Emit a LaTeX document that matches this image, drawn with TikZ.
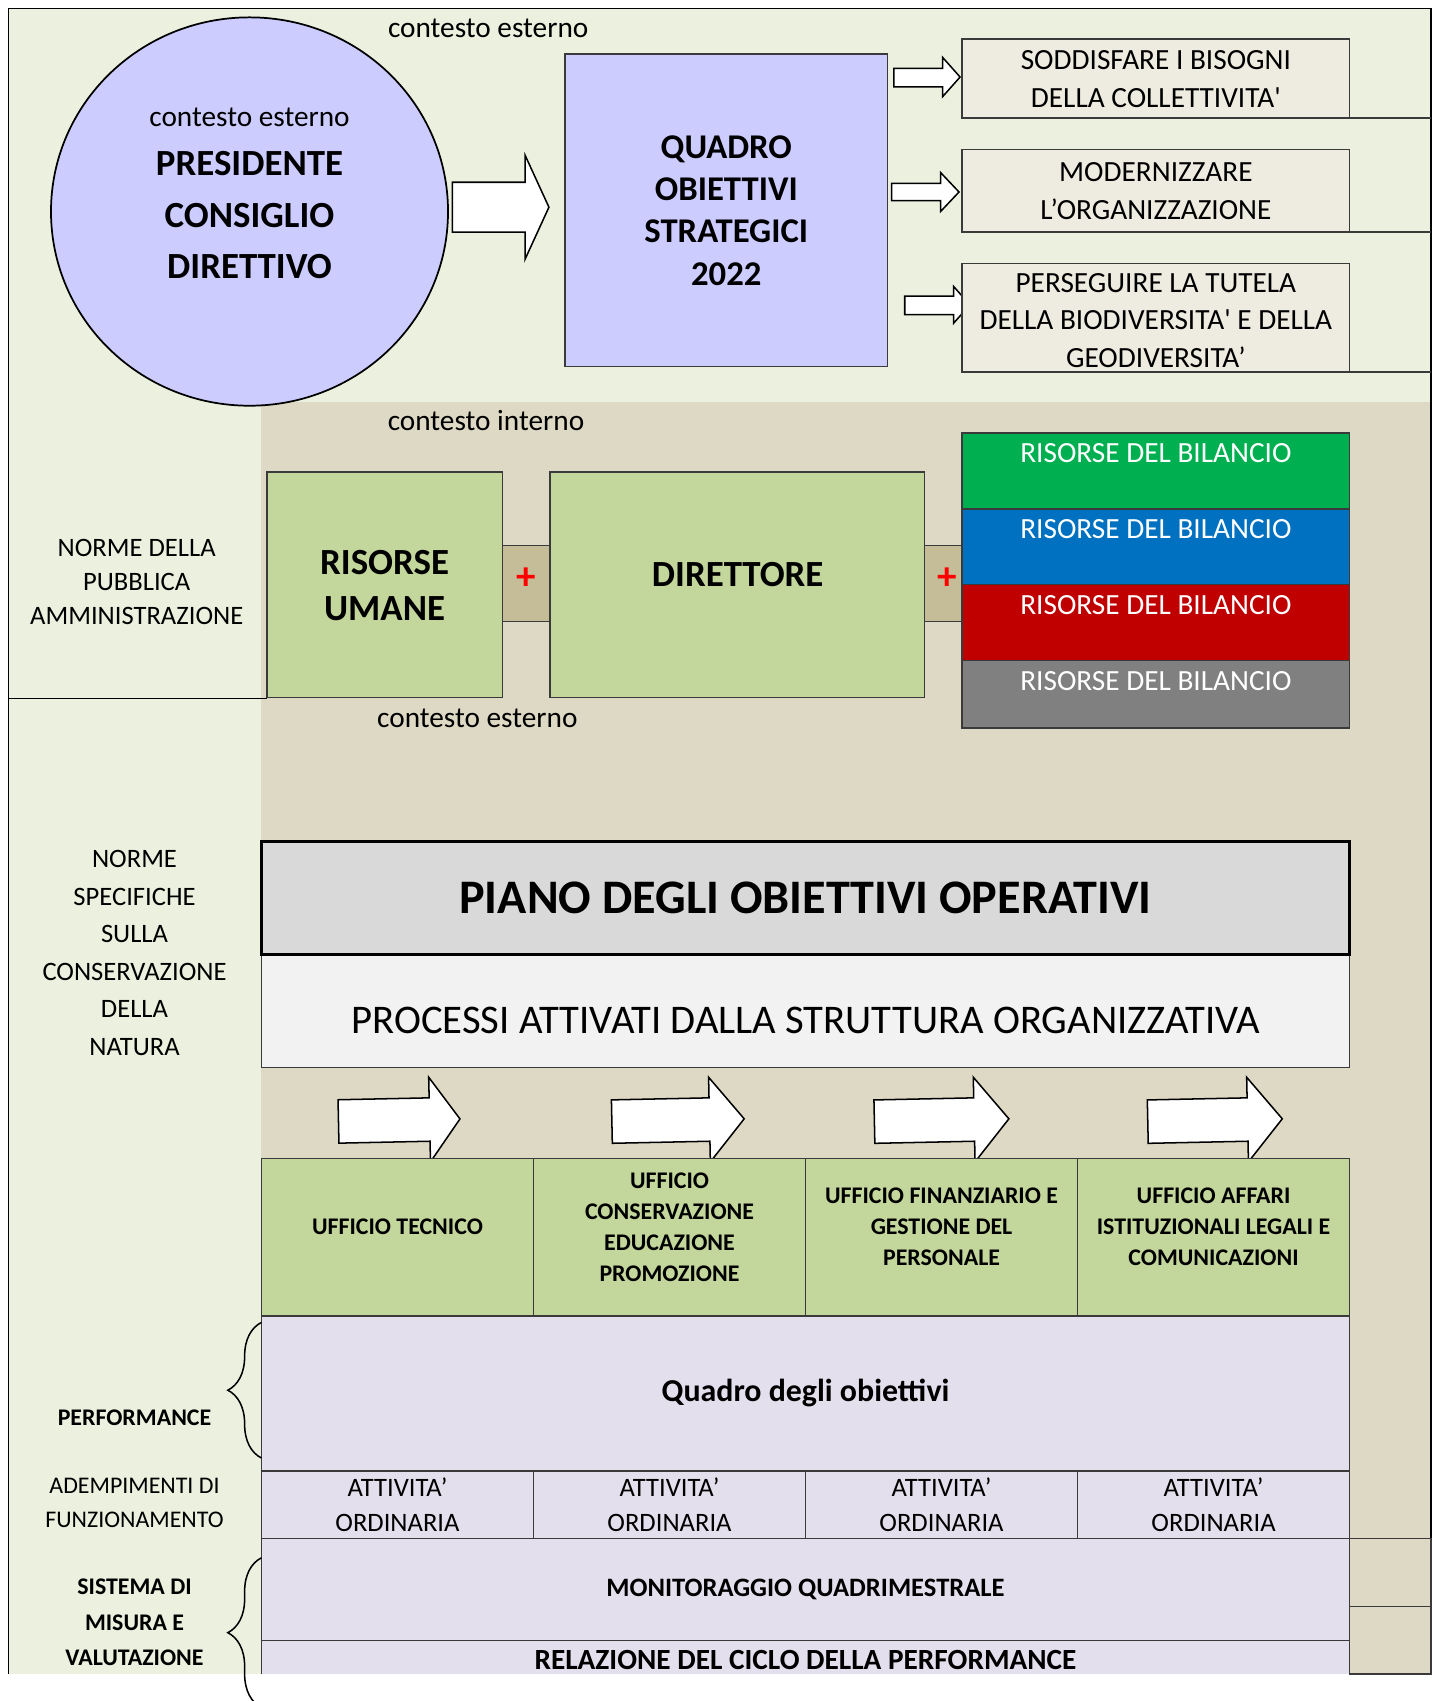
\documentclass[tikz,border=0pt]{standalone}
\usepackage{fontspec}
\setmainfont{Carlito}
\usetikzlibrary{shapes.geometric,decorations.pathreplacing}

\definecolor{esterno}{HTML}{EBF1DE}
\definecolor{interno}{HTML}{DDD9C4}
\definecolor{lilla}{HTML}{CCCCFF}
\definecolor{tela}{HTML}{EEECE1}
\definecolor{oliva}{HTML}{C3D69B}
\definecolor{sabbia}{HTML}{C4BD97}
\definecolor{grigiochiaro}{HTML}{D9D9D9}
\definecolor{grigiotenue}{HTML}{F2F2F2}
\definecolor{glicine}{HTML}{E4DFEC}
\definecolor{verdebil}{HTML}{00B050}
\definecolor{blubil}{HTML}{0070C0}
\definecolor{rossobil}{HTML}{C00000}
\definecolor{grigiobil}{HTML}{808080}
\definecolor{bordo}{HTML}{3A3A3A}

\begin{document}
\begin{tikzpicture}[x=1pt, y=-1pt,
    cornice/.style={draw=bordo, line width=1.4pt},
    cella/.style={cornice, inner sep=0pt, outer sep=0pt},
    freccia/.style={draw=black, line width=1.4pt, fill=white},
    graffa/.style={draw=black, line width=1.4pt, decorate, decoration={brace, amplitude=31pt}},
    txt/.style={align=center, inner sep=0pt, font=\fontsize{27}{35}\selectfont},
    sx/.style={align=center, inner sep=0pt, font=\fontsize{24.5}{31.5}\selectfont},
    sxb/.style={align=center, inner sep=0pt, font=\bfseries\fontsize{22}{32.5}\selectfont},
    grande/.style={align=center, inner sep=0pt, font=\bfseries\fontsize{34}{42}\selectfont},
    piu/.style={text=red, inner sep=0pt, font=\bfseries\fontsize{36}{36}\selectfont},
    uffici/.style={align=center, inner sep=0pt, font=\bfseries\fontsize{22}{28.5}\selectfont}]
    \useasboundingbox (0,0) rectangle (1327,1568);

    % contesto esterno e contesto interno
    \fill[esterno] (8,8) rectangle (1319,1543);
    \fill[interno] (241,371) rectangle (1319,1543);
    \draw[line width=1.4pt] (8,1543) -- (8,8) -- (1319,8) -- (1319,1543);
    \draw[line width=1.4pt] (8,644) -- (246,644);

    \node[txt] (esterno1) at (450,26) {contesto esterno};
    \node[txt] (interno1) at (448,388) {contesto interno};
    \node[txt] (esterno2) at (440,662) {contesto esterno};

    % vertice politico
    \node[ellipse, draw=black, line width=1.6pt, fill=lilla, inner sep=0pt,
          minimum width=366pt, minimum height=358pt] (consiglio) at (230,195) {};
    \node[txt] (esterno0) at (230,108) {contesto esterno};
    \node[grande, font=\bfseries\fontsize{34}{47.5}\selectfont] (presidente) at (230,198.5)
        {PRESIDENTE\\CONSIGLIO\\DIRETTIVO};

    \draw[freccia] (417,168) -- (484,168) -- (484,143) -- (506,191) -- (484,239) -- (484,214) -- (417,214) -- cycle;

    \node[cella, fill=lilla, minimum width=297pt, minimum height=288pt, align=center,
          font=\bfseries\fontsize{32}{39}\selectfont] (quadro) at (669.5,194)
        {QUADRO\\OBIETTIVI\\STRATEGICI\\2022};

    % obiettivi strategici
    \draw[freccia] (824,63) -- (869,63) -- (869,53) -- (885,71) -- (869,89) -- (869,80) -- (824,80) -- cycle;
    \draw[freccia] (822,169) -- (867,169) -- (867,159) -- (884,177) -- (867,195) -- (867,185) -- (822,185) -- cycle;
    \draw[freccia] (834,273) -- (879,273) -- (879,264) -- (894,281) -- (879,298) -- (879,290) -- (834,290) -- cycle;

    \node[cella, txt, fill=tela, minimum width=357pt, minimum height=73pt] (ob1) at (1065.5,72.5)
        {SODDISFARE I BISOGNI\\DELLA COLLETTIVITA\textquotesingle};
    \node[cella, txt, fill=tela, minimum width=357pt, minimum height=76pt] (ob2) at (1065.5,176)
        {MODERNIZZARE\\L’ORGANIZZAZIONE};
    \node[cella, fill=tela, minimum width=357pt, minimum height=100pt] (ob3) at (1065.5,293) {};
    \node[txt] (ob3txt) at (1065.5,295.5)
        {PERSEGUIRE LA TUTELA\\DELLA BIODIVERSITA\textquotesingle{} E DELLA\\GEODIVERSITA’};
    \draw[cornice] (ob1.south east) -- (1319,109);
    \draw[cornice] (ob2.south east) -- (1319,214);
    \draw[cornice] (ob3.south east) -- (1319,343);

    % risorse
    \node[sx] (normepa) at (126,536.5) {NORME DELLA\\PUBBLICA\\AMMINISTRAZIONE};
    \node[cella, fill=sabbia, minimum width=44pt, minimum height=70pt] (piu1) at (485,538) {};
    \node[cella, fill=sabbia, minimum width=35pt, minimum height=70pt] (piu2) at (869.5,538) {};
    \node[piu] (piu1txt) at (485,533) {+};
    \node[piu] (piu2txt) at (873,533) {+};
    \node[cella, fill=oliva, minimum width=217pt, minimum height=208pt] (umane) at (354.5,539) {};
    \node[grande] (umanetxt) at (354.5,540) {RISORSE\\UMANE};
    \node[cella, fill=oliva, minimum width=345pt, minimum height=208pt] (direttore) at (679.5,539) {};
    \node[grande] (direttoretxt) at (680,530) {DIRETTORE};

    \foreach \c/\yc/\h/\n in {verdebil/434/70/1, blubil/504/70/2, rossobil/574/70/3, grigiobil/640/62/4} {
        \node[cella, fill=\c, minimum width=357pt, minimum height=\h pt] (bil\n) at (1065.5,\yc) {};
        \node[txt, text=white, anchor=north] (bil\n txt) at ([yshift=-10pt]bil\n.north) {RISORSE DEL BILANCIO};
    }

    % piano operativo
    \node[sx, font=\fontsize{24.5}{34.6}\selectfont] (normecons) at (124,878.5)
        {NORME\\SPECIFICHE\\SULLA\\CONSERVAZIONE\\DELLA\\NATURA};
    \node[cella, fill=grigiotenue, minimum width=1003pt, minimum height=104pt] (processi) at (742.5,932) {};
    \node[inner sep=0pt, font=\fontsize{37.5}{40}\selectfont] (processitxt) at (743,941)
        {PROCESSI ATTIVATI DALLA STRUTTURA ORGANIZZATIVA};
    \node[draw=black, line width=2.6pt, fill=grigiochiaro, inner sep=0pt, minimum width=1003pt,
          minimum height=104pt, font=\bfseries\fontsize{44.4}{44}\selectfont] (piano) at (742.5,828)
        {PIANO DEGLI OBIETTIVI OPERATIVI};

    \foreach \xa/\xb/\xt in {312/396/424, 564/654/686, 806/898/930, 1058/1150/1182} {
        \draw[freccia, rotate around={1.2:(\xb,1032)}] (\xa,1012) -- (\xb,1012) -- (\xb,993) -- (\xt,1032)
            -- (\xb,1071) -- (\xb,1052) -- (\xa,1052) -- cycle;
    }

    \foreach \i/\testo in {0/{UFFICIO TECNICO},
                           1/{UFFICIO\\CONSERVAZIONE\\EDUCAZIONE\\PROMOZIONE},
                           2/{UFFICIO FINANZIARIO E\\GESTIONE DEL\\PERSONALE},
                           3/{UFFICIO AFFARI\\ISTITUZIONALI LEGALI E\\COMUNICAZIONI}} {
        \node[cella, fill=oliva, minimum width=250.75pt, minimum height=145pt] (uff\i) at (366.4+250.75*\i,1140.5) {};
        \node[uffici] (uff\i txt) at (366.4+250.75*\i,1131) {\testo};
    }

    % performance
    \node[cella, fill=glicine, minimum width=1003pt, minimum height=143pt,
          font=\bfseries\fontsize{29.4}{30}\selectfont] (quadroob) at (742.5,1284.5) {Quadro degli obiettivi};
    \foreach \i in {0,...,3}
        \node[cella, sx, fill=glicine, minimum width=250.75pt, minimum height=62pt] (att\i) at (366.4+250.75*\i,1387)
            {ATTIVITA’\\ORDINARIA};
    \node[cella, fill=glicine, minimum width=1003pt, minimum height=94pt,
          font=\bfseries\fontsize{24.5}{25}\selectfont] (monit) at (742.5,1465) {MONITORAGGIO QUADRIMESTRALE};
    \fill[glicine] (241,1512) rectangle (1244,1543);
    \draw[cornice] (241,1543) -- (241,1512) -- (1244,1512) -- (1244,1543);
    \node[inner sep=0pt, font=\bfseries\fontsize{27}{27}\selectfont] (relazione) at (742.5,1530)
        {RELAZIONE DEL CICLO DELLA PERFORMANCE};
    \draw[cornice] (1244,1418) rectangle (1319,1481);
    \draw[cornice] (1244,1481) rectangle (1319,1543);

    \node[sxb] (perf) at (124,1307) {PERFORMANCE};
    \node[sx, font=\fontsize{22}{31}\selectfont] (adempimenti) at (124,1385.5) {ADEMPIMENTI DI\\FUNZIONAMENTO};
    \node[sxb] (sistema) at (124,1495.5) {SISTEMA DI\\MISURA E\\VALUTAZIONE};
    \draw[graffa] (241,1344) -- (241,1219);
    \draw[graffa] (241,1574) -- (241,1436);
\end{tikzpicture}
\end{document}
